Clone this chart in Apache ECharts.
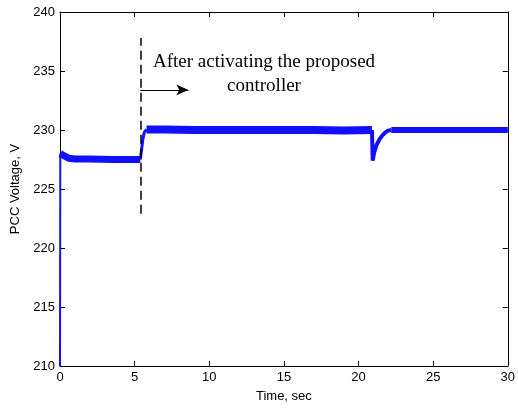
<!DOCTYPE html>
<html>
<head>
<meta charset="utf-8">
<script src="https://cdn.jsdelivr.net/npm/echarts@6/dist/echarts.min.js"></script>
<style>
    html, body { margin: 0; padding: 0; background: #fff; }
    #chart { width: 518px; height: 408px; }
</style>
</head>
<body>
<div id="chart"></div>
<script>
// values (time in sec, voltage in V)
let riseT = [0, 0.02];
let riseV = [210, 228.0];
let preT = [0.02, 0.3, 0.6, 1.0, 2.0, 3.5, 5.38];
let preV = [228.0, 227.8, 227.6, 227.55, 227.55, 227.5, 227.5];
let stepT = [5.38, 5.45, 5.55, 5.65, 5.8];
let stepV = [227.5, 228.2, 229.2, 229.8, 230.05];
let postT = [5.8, 7, 9, 11, 13, 15, 17, 19, 20.9];
let postV = [230.05, 230.05, 230.0, 230.0, 230.0, 230.0, 230.0, 229.95, 230.0];
let dipT = [20.9, 20.95, 21.05, 21.2, 21.4, 21.6, 21.8, 22.0, 22.2];
let dipV = [230.0, 227.4, 228.1, 228.7, 229.2, 229.55, 229.8, 229.95, 230.0];
let endT = [22.2, 25, 28, 30];
let endV = [230.0, 230.0, 230.0, 230.0];
let xTicks = [0, 30, 5];
let yTicks = [210, 240, 5];
let markerT = 5.38;

const pairs = (t, v) => t.map((x, i) => [x, v[i]]);
const blue = '#1010ff';
const lineSeries = (name, t, v, w) => ({
    name: name, type: 'line', showSymbol: false, symbol: 'none', silent: true,
    lineStyle: { color: blue, width: w }, data: pairs(t, v)
});

let myChart = echarts.init(document.getElementById('chart'));
let axisBase = {
    axisLine: { show: true, onZero: false, lineStyle: { color: '#000', width: 1 } },
    axisTick: { show: true, inside: true, length: 5, lineStyle: { color: '#000' } },
    splitLine: { show: false },
    axisLabel: { color: '#000', fontFamily: 'Liberation Sans', fontSize: 13 }
};
let nameStyle = { color: '#000', fontFamily: 'Liberation Sans', fontSize: 13 };
let option = {
    animation: false,
    grid: { left: 60, right: 10, top: 12, bottom: 39 },
    xAxis: [
        Object.assign({}, axisBase, {
            type: 'value', min: xTicks[0], max: xTicks[1], interval: xTicks[2],
            name: 'Time, sec', nameLocation: 'middle', nameGap: 24,
            nameTextStyle: nameStyle,
            axisLabel: Object.assign({}, axisBase.axisLabel, { margin: 5 })
        }),
        Object.assign({}, axisBase, {
            type: 'value', position: 'top', min: xTicks[0], max: xTicks[1], interval: xTicks[2],
            axisLabel: { show: false }
        })
    ],
    yAxis: [
        Object.assign({}, axisBase, {
            type: 'value', min: yTicks[0], max: yTicks[1], interval: yTicks[2],
            name: 'PCC Voltage, V', nameLocation: 'middle', nameGap: 32,
            nameTextStyle: nameStyle,
            axisLabel: Object.assign({}, axisBase.axisLabel, { margin: 5 })
        }),
        Object.assign({}, axisBase, {
            type: 'value', position: 'right', min: yTicks[0], max: yTicks[1], interval: yTicks[2],
            axisLabel: { show: false }
        })
    ],
    graphic: [{
        type: 'text', left: 264 - 112, top: 50, silent: true,
        style: {
            text: 'After activating the proposed\ncontroller',
            fill: '#000', font: '19px "Liberation Serif"', textAlign: 'center',
            lineHeight: 24, align: 'center', width: 224
        }
    }],
    series: [
        lineSeries('rise', riseT, riseV, 2),
        lineSeries('pre', preT, preV, 7),
        lineSeries('step', stepT, stepV, 3),
        Object.assign(lineSeries('post', postT, postV, 8), {
            markLine: {
                silent: true, symbol: 'none', animation: false,
                label: { show: false },
                data: [
                    [{ coord: [markerT, 222.9], lineStyle: { color: '#000', width: 1.5, type: [9, 5] } },
                     { coord: [markerT, 237.8] }],
                    [{ coord: [markerT, 233.4], symbol: 'none', lineStyle: { color: '#000', width: 1.2, type: 'solid' } },
                     { coord: [8.6, 233.4], symbol: 'arrow', symbolSize: [8, 12] }]
                ]
            }
        }),
        lineSeries('dip', dipT, dipV, 4),
        lineSeries('end', endT, endV, 6)
    ]
};
myChart.setOption(option);
</script>
</body>
</html>
